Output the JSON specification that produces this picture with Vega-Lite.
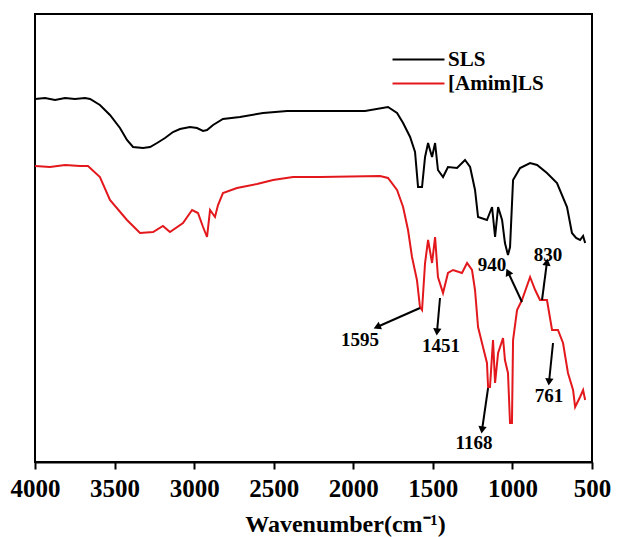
{
  "$schema": "https://vega.github.io/schema/vega-lite/v6.json",
  "width": 557,
  "height": 448,
  "autosize": {"type": "none"},
  "padding": {"left": 35, "top": 14, "right": 25, "bottom": 75},
  "background": "white",
  "config": {
    "view": {"stroke": "black", "strokeWidth": 2},
    "font": "Liberation Serif"
  },
  "datasets": {
    "spectra": [
      {"series": "SLS", "wn": 4000, "t": 363}, {"series": "SLS", "wn": 3937, "t": 364}, {"series": "SLS", "wn": 3874, "t": 362}, {"series": "SLS", "wn": 3811, "t": 364}, {"series": "SLS", "wn": 3749, "t": 363}, {"series": "SLS", "wn": 3686, "t": 364}, {"series": "SLS", "wn": 3654, "t": 363},
      {"series": "SLS", "wn": 3592, "t": 357}, {"series": "SLS", "wn": 3529, "t": 347}, {"series": "SLS", "wn": 3466, "t": 334}, {"series": "SLS", "wn": 3422, "t": 322}, {"series": "SLS", "wn": 3384, "t": 315}, {"series": "SLS", "wn": 3321, "t": 314}, {"series": "SLS", "wn": 3277, "t": 315}, {"series": "SLS", "wn": 3233, "t": 319}, {"series": "SLS", "wn": 3183, "t": 324}, {"series": "SLS", "wn": 3133, "t": 330}, {"series": "SLS", "wn": 3089, "t": 333}, {"series": "SLS", "wn": 3026, "t": 335}, {"series": "SLS", "wn": 2982, "t": 334}, {"series": "SLS", "wn": 2944, "t": 331}, {"series": "SLS", "wn": 2919, "t": 332}, {"series": "SLS", "wn": 2881, "t": 337}, {"series": "SLS", "wn": 2819, "t": 343}, {"series": "SLS", "wn": 2712, "t": 345}, {"series": "SLS", "wn": 2567, "t": 349}, {"series": "SLS", "wn": 2416, "t": 351}, {"series": "SLS", "wn": 2209, "t": 351}, {"series": "SLS", "wn": 1926, "t": 351}, {"series": "SLS", "wn": 1782, "t": 355}, {"series": "SLS", "wn": 1725, "t": 349}, {"series": "SLS", "wn": 1687, "t": 339}, {"series": "SLS", "wn": 1643, "t": 325}, {"series": "SLS", "wn": 1612, "t": 310}, {"series": "SLS", "wn": 1593, "t": 275}, {"series": "SLS", "wn": 1568, "t": 275}, {"series": "SLS", "wn": 1549, "t": 305}, {"series": "SLS", "wn": 1530, "t": 319}, {"series": "SLS", "wn": 1518, "t": 312}, {"series": "SLS", "wn": 1505, "t": 305}, {"series": "SLS", "wn": 1486, "t": 319}, {"series": "SLS", "wn": 1468, "t": 292}, {"series": "SLS", "wn": 1436, "t": 285}, {"series": "SLS", "wn": 1405, "t": 295}, {"series": "SLS", "wn": 1348, "t": 294}, {"series": "SLS", "wn": 1298, "t": 302}, {"series": "SLS", "wn": 1266, "t": 295}, {"series": "SLS", "wn": 1235, "t": 272}, {"series": "SLS", "wn": 1216, "t": 245}, {"series": "SLS", "wn": 1160, "t": 242}, {"series": "SLS", "wn": 1128, "t": 255}, {"series": "SLS", "wn": 1109, "t": 225}, {"series": "SLS", "wn": 1090, "t": 255}, {"series": "SLS", "wn": 1065, "t": 242}, {"series": "SLS", "wn": 1047, "t": 219}, {"series": "SLS", "wn": 1028, "t": 207}, {"series": "SLS", "wn": 1015, "t": 215}, {"series": "SLS", "wn": 996, "t": 282}, {"series": "SLS", "wn": 952, "t": 294}, {"series": "SLS", "wn": 889, "t": 299}, {"series": "SLS", "wn": 845, "t": 297}, {"series": "SLS", "wn": 783, "t": 289}, {"series": "SLS", "wn": 720, "t": 279}, {"series": "SLS", "wn": 657, "t": 255}, {"series": "SLS", "wn": 626, "t": 229}, {"series": "SLS", "wn": 600, "t": 224}, {"series": "SLS", "wn": 575, "t": 222}, {"series": "SLS", "wn": 556, "t": 226}, {"series": "SLS", "wn": 543, "t": 219},
      {"series": "[Amim]LS", "wn": 4000, "t": 296}, {"series": "[Amim]LS", "wn": 3906, "t": 295}, {"series": "[Amim]LS", "wn": 3811, "t": 297}, {"series": "[Amim]LS", "wn": 3717, "t": 296}, {"series": "[Amim]LS", "wn": 3667, "t": 296}, {"series": "[Amim]LS", "wn": 3592, "t": 285}, {"series": "[Amim]LS", "wn": 3529, "t": 262}, {"series": "[Amim]LS", "wn": 3422, "t": 242}, {"series": "[Amim]LS", "wn": 3340, "t": 229}, {"series": "[Amim]LS", "wn": 3258, "t": 230}, {"series": "[Amim]LS", "wn": 3196, "t": 236}, {"series": "[Amim]LS", "wn": 3152, "t": 230}, {"series": "[Amim]LS", "wn": 3070, "t": 239}, {"series": "[Amim]LS", "wn": 3013, "t": 252}, {"series": "[Amim]LS", "wn": 2976, "t": 249}, {"series": "[Amim]LS", "wn": 2944, "t": 235}, {"series": "[Amim]LS", "wn": 2919, "t": 225}, {"series": "[Amim]LS", "wn": 2900, "t": 252}, {"series": "[Amim]LS", "wn": 2869, "t": 245}, {"series": "[Amim]LS", "wn": 2850, "t": 257}, {"series": "[Amim]LS", "wn": 2819, "t": 269}, {"series": "[Amim]LS", "wn": 2731, "t": 274}, {"series": "[Amim]LS", "wn": 2605, "t": 278}, {"series": "[Amim]LS", "wn": 2504, "t": 282}, {"series": "[Amim]LS", "wn": 2379, "t": 285}, {"series": "[Amim]LS", "wn": 2209, "t": 285}, {"series": "[Amim]LS", "wn": 1832, "t": 286}, {"series": "[Amim]LS", "wn": 1782, "t": 284}, {"series": "[Amim]LS", "wn": 1725, "t": 272}, {"series": "[Amim]LS", "wn": 1687, "t": 255}, {"series": "[Amim]LS", "wn": 1656, "t": 232}, {"series": "[Amim]LS", "wn": 1631, "t": 205}, {"series": "[Amim]LS", "wn": 1600, "t": 182}, {"series": "[Amim]LS", "wn": 1581, "t": 155}, {"series": "[Amim]LS", "wn": 1568, "t": 152}, {"series": "[Amim]LS", "wn": 1549, "t": 199}, {"series": "[Amim]LS", "wn": 1530, "t": 222}, {"series": "[Amim]LS", "wn": 1505, "t": 199}, {"series": "[Amim]LS", "wn": 1486, "t": 225}, {"series": "[Amim]LS", "wn": 1468, "t": 185}, {"series": "[Amim]LS", "wn": 1436, "t": 169}, {"series": "[Amim]LS", "wn": 1405, "t": 189}, {"series": "[Amim]LS", "wn": 1373, "t": 192}, {"series": "[Amim]LS", "wn": 1317, "t": 189}, {"series": "[Amim]LS", "wn": 1285, "t": 199}, {"series": "[Amim]LS", "wn": 1254, "t": 192}, {"series": "[Amim]LS", "wn": 1235, "t": 172}, {"series": "[Amim]LS", "wn": 1216, "t": 135}, {"series": "[Amim]LS", "wn": 1185, "t": 115}, {"series": "[Amim]LS", "wn": 1160, "t": 99}, {"series": "[Amim]LS", "wn": 1153, "t": 75}, {"series": "[Amim]LS", "wn": 1141, "t": 75}, {"series": "[Amim]LS", "wn": 1122, "t": 122}, {"series": "[Amim]LS", "wn": 1109, "t": 79}, {"series": "[Amim]LS", "wn": 1090, "t": 109}, {"series": "[Amim]LS", "wn": 1059, "t": 124}, {"series": "[Amim]LS", "wn": 1047, "t": 102}, {"series": "[Amim]LS", "wn": 1028, "t": 89}, {"series": "[Amim]LS", "wn": 1015, "t": 39}, {"series": "[Amim]LS", "wn": 1003, "t": 39}, {"series": "[Amim]LS", "wn": 996, "t": 122}, {"series": "[Amim]LS", "wn": 971, "t": 152}, {"series": "[Amim]LS", "wn": 940, "t": 162}, {"series": "[Amim]LS", "wn": 889, "t": 185}, {"series": "[Amim]LS", "wn": 857, "t": 172}, {"series": "[Amim]LS", "wn": 827, "t": 162}, {"series": "[Amim]LS", "wn": 783, "t": 162}, {"series": "[Amim]LS", "wn": 751, "t": 132}, {"series": "[Amim]LS", "wn": 714, "t": 132}, {"series": "[Amim]LS", "wn": 682, "t": 119}, {"series": "[Amim]LS", "wn": 651, "t": 89}, {"series": "[Amim]LS", "wn": 619, "t": 72}, {"series": "[Amim]LS", "wn": 606, "t": 55}, {"series": "[Amim]LS", "wn": 575, "t": 65}, {"series": "[Amim]LS", "wn": 556, "t": 72}, {"series": "[Amim]LS", "wn": 543, "t": 62}
    ],
    "notes": [
      {"label": "1595", "x": 1581, "y": 154, "x2": 1851, "y2": 135, "lx": 1958, "ly": 122},
      {"label": "1451", "x": 1455, "y": 164, "x2": 1474, "y2": 130, "lx": 1449, "ly": 116},
      {"label": "1168", "x": 1153, "y": 74, "x2": 1191, "y2": 32, "lx": 1242, "ly": 19},
      {"label": "940", "x": 940, "y": 160, "x2": 1028, "y2": 190, "lx": 1128, "ly": 197},
      {"label": "830", "x": 814, "y": 162, "x2": 783, "y2": 200, "lx": 776, "ly": 207},
      {"label": "761", "x": 745, "y": 119, "x2": 770, "y2": 80, "lx": 770, "ly": 66}
    ]
  },
  "layer": [
    {
      "data": {"name": "spectra"},
      "mark": {"type": "line", "strokeWidth": 2, "interpolate": "linear"},
      "encoding": {
        "x": {
          "field": "wn", "type": "quantitative",
          "scale": {"domain": [500, 4000], "reverse": true, "nice": false, "zero": false},
          "axis": {
            "orient": "bottom",
            "values": [4000, 3750, 3500, 3250, 3000, 2750, 2500, 2250, 2000, 1750, 1500, 1250, 1000, 750, 500],
            "labelExpr": "datum.value % 500 === 0 ? datum.label : ''",
            "format": "d",
            "tickSize": 7,
            "tickWidth": 2, "tickColor": "black",
            "domainColor": "black", "domainWidth": 2,
            "grid": false,
            "labelFont": "Liberation Serif", "labelFontSize": 25, "labelFontWeight": "bold", "labelColor": "black",
            "labelPadding": 7, "labelFlush": false, "labelOverlap": false,
            "title": "Wavenumber(cm⁻¹)",
            "titleFont": "Liberation Serif", "titleFontSize": 24, "titleFontWeight": "bold", "titleColor": "black",
            "titleX": 310, "titleY": 50
          }
        },
        "y": {
          "field": "t", "type": "quantitative",
          "scale": {"domain": [0, 448], "nice": false, "zero": false},
          "axis": null
        },
        "color": {
          "field": "series", "type": "nominal",
          "scale": {"domain": ["SLS", "[Amim]LS"], "range": ["black", "#e3181c"]},
          "legend": {
            "title": null, "orient": "none", "legendX": 373, "legendY": 35,
            "symbolType": "M-5,0H5", "symbolSize": 108, "symbolStrokeWidth": 2,
            "labelFont": "Liberation Serif", "labelFontSize": 21, "labelFontWeight": "bold", "labelColor": "black",
            "labelOffset": 19, "rowPadding": 2, "padding": 0
          }
        }
      }
    },
    {
      "data": {"name": "notes"},
      "mark": {"type": "rule", "color": "black", "strokeWidth": 2},
      "encoding": {
        "x": {"field": "x", "type": "quantitative"},
        "y": {"field": "y", "type": "quantitative"},
        "x2": {"field": "x2"},
        "y2": {"field": "y2"}
      }
    },
    {
      "data": {"name": "notes"},
      "mark": {
        "type": "point", "shape": "triangle-up", "filled": true, "color": "black", "opacity": 1, "size": 70,
        "angle": {"expr": "atan2(scale('x', datum.x2) - scale('x', datum.x), scale('y', datum.y) - scale('y', datum.y2)) * 180 / PI"}
      },
      "encoding": {
        "x": {"field": "x2", "type": "quantitative"},
        "y": {"field": "y2", "type": "quantitative"}
      }
    },
    {
      "data": {"name": "notes"},
      "mark": {"type": "text", "font": "Liberation Serif", "fontSize": 19, "fontWeight": "bold", "color": "black", "baseline": "middle", "align": "center"},
      "encoding": {
        "x": {"field": "lx", "type": "quantitative"},
        "y": {"field": "ly", "type": "quantitative"},
        "text": {"field": "label"}
      }
    }
  ]
}
